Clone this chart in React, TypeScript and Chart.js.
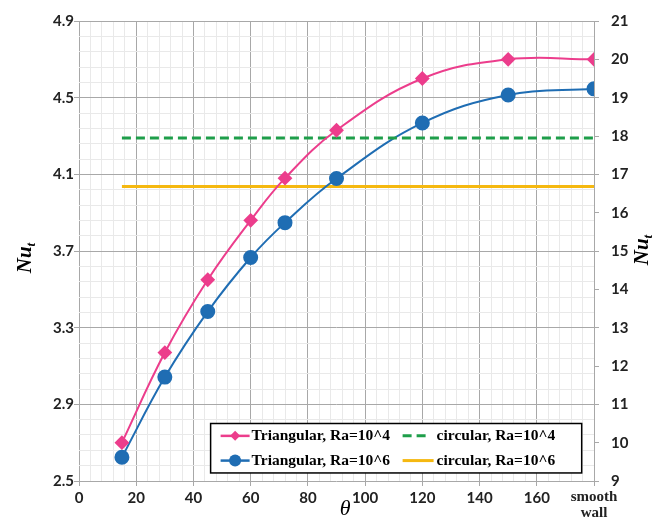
import React, { useEffect, useRef } from "react";
import { Chart, registerables } from "chart.js";

Chart.register(...registerables);

const thetaDeg = [15, 30, 45, 60, 72, 90, 120, 150, 180];
const triangularRa4 = [2.7, 3.17, 3.55, 3.86, 4.08, 4.33, 4.6, 4.7, 4.7];
const triangularRa6 = [9.62, 11.71, 13.42, 14.83, 15.74, 16.89, 18.34, 19.07, 19.23];
const circularRange = [15, 180];
const circularRa4 = 4.29;
const circularRa6 = 16.68;

const xMajorTicks = [0, 20, 40, 60, 80, 100, 120, 140, 160, 180];
const xLastLabel = ["smooth", "wall"];
const leftMajorTicks = [2.5, 2.9, 3.3, 3.7, 4.1, 4.5, 4.9];
const rightTicks = [9, 10, 11, 12, 13, 14, 15, 16, 17, 18, 19, 20, 21];

const legendLabels = [
  "Triangular, Ra=10^4",
  "circular, Ra=10^4",
  "Triangular, Ra=10^6",
  "circular, Ra=10^6",
];

const PINK = "#ec3d8c";
const BLUE = "#1f6db3";
const GREEN = "#1e9e4a";
const ORANGE = "#f5b810";

const MAJOR_GRID = "#a8a8a8";
const MINOR_GRID = "#e9e9e9";

const SERIF = "'Liberation Serif', 'DejaVu Serif', serif";
const tickFont = { family: "Lato, 'Open Sans', sans-serif", weight: "bold" as const, size: 15 };
const serifBold = { family: SERIF, weight: "bold" as const, size: 15, lineHeight: 1.05 };

function isMultiple(v: number, step: number, base = 0) {
  const r = (v - base) / step;
  return Math.abs(r - Math.round(r)) < 1e-6;
}

const titlesPlugin = {
  id: "customTitles",
  afterDraw(chart: any) {
    const ctx = chart.ctx;
    const drawNu = (x: number, y: number, rot: number) => {
      ctx.save();
      ctx.translate(x, y);
      ctx.rotate(rot);
      ctx.fillStyle = "#000";
      ctx.font = `italic bold 21px ${SERIF}`;
      const w1 = ctx.measureText("Nu").width;
      ctx.font = `italic bold 13px ${SERIF}`;
      const w2 = ctx.measureText("t").width;
      const total = w1 + w2;
      ctx.textBaseline = "middle";
      ctx.textAlign = "left";
      ctx.font = `italic bold 21px ${SERIF}`;
      ctx.fillText("Nu", -total / 2, 0);
      ctx.font = `italic bold 13px ${SERIF}`;
      ctx.fillText("t", -total / 2 + w1, 6);
      ctx.restore();
    };
    drawNu(26, 258, -Math.PI / 2);
    drawNu(643, 250, -Math.PI / 2);
    ctx.save();
    ctx.fillStyle = "#000";
    ctx.font = `italic 22px ${SERIF}`;
    ctx.textAlign = "center";
    ctx.textBaseline = "middle";
    ctx.fillText("θ", chart.scales.x.getPixelForValue(93), 509);
    ctx.restore();
  },
};

const legendPlugin = {
  id: "insideLegend",
  afterDraw(chart: any) {
    const ctx = chart.ctx;
    const x = chart.scales.x;
    const yl = chart.scales.yLeft;
    const left = x.getPixelForValue(46);
    const right = x.getPixelForValue(175.7);
    const top = yl.getPixelForValue(2.8);
    const bottom = yl.getPixelForValue(2.542);
    ctx.save();
    ctx.fillStyle = "#fff";
    ctx.fillRect(left, top, right - left, bottom - top);
    ctx.strokeStyle = "#000";
    ctx.lineWidth = 1.5;
    ctx.strokeRect(left, top, right - left, bottom - top);
    const ds = chart.data.datasets;
    const rowH = (bottom - top) / 2;
    [0, 1, 2, 3].forEach((di) => {
      const d = ds[di];
      const col = di % 2;
      const row = Math.floor(di / 2);
      const cy = top + rowH * (row + 0.5);
      const sx = col === 0 ? left + 10 : left + 192;
      const sw = col === 0 ? 29 : (d.borderDash ? 26 : 31);
      ctx.strokeStyle = d.borderColor;
      ctx.lineWidth = d.borderWidth + (col === 0 ? 0.5 : 0);
      ctx.setLineDash(d.borderDash || []);
      ctx.beginPath();
      ctx.moveTo(sx, cy);
      ctx.lineTo(sx + sw, cy);
      ctx.stroke();
      ctx.setLineDash([]);
      if (d.pointRadius > 0) {
        ctx.fillStyle = d.pointBackgroundColor;
        const r = d.pointStyle === "rectRot" ? 5 : 6;
        const cx = sx + sw / 2;
        ctx.beginPath();
        if (d.pointStyle === "rectRot") {
          ctx.moveTo(cx, cy - r);
          ctx.lineTo(cx + r, cy);
          ctx.lineTo(cx, cy + r);
          ctx.lineTo(cx - r, cy);
          ctx.closePath();
        } else {
          ctx.arc(cx, cy, r, 0, Math.PI * 2);
        }
        ctx.fill();
      }
      ctx.fillStyle = "#000";
      ctx.font = `bold 15.5px ${SERIF}`;
      ctx.textAlign = "left";
      ctx.textBaseline = "middle";
      const tx = col === 0 ? sx + sw + 2 : left + 226;
      ctx.fillText(legendLabels[di], tx, cy);
    });
    ctx.restore();
  },
};

export default function App() {
  const canvasRef = useRef<HTMLCanvasElement | null>(null);

  useEffect(() => {
    if (!canvasRef.current) return;
    const xTickValues: number[] = [];
    for (let v = 0; v <= 180 + 1e-9; v += 4) xTickValues.push(v);
    const leftTickValues: number[] = [];
    for (let i = 0; i <= 30; i++) leftTickValues.push(+(2.5 + i * 0.08).toFixed(2));

    const chart = new Chart(canvasRef.current, {
      type: "line",
      data: {
        datasets: [
          {
            label: legendLabels[0],
            data: thetaDeg.map((t, i) => ({ x: t, y: triangularRa4[i] })),
            yAxisID: "yLeft",
            borderColor: PINK,
            backgroundColor: PINK,
            pointBackgroundColor: PINK,
            pointBorderColor: PINK,
            pointStyle: "rectRot",
            pointRadius: 6,
            borderWidth: 2,
            tension: 0.4,
          } as any,
          {
            label: legendLabels[1],
            data: circularRange.map((t) => ({ x: t, y: circularRa4 })),
            yAxisID: "yLeft",
            borderColor: GREEN,
            backgroundColor: GREEN,
            borderDash: [9, 5],
            borderWidth: 3,
            pointRadius: 0,
            tension: 0,
          },
          {
            label: legendLabels[2],
            data: thetaDeg.map((t, i) => ({ x: t, y: triangularRa6[i] })),
            yAxisID: "yRight",
            borderColor: BLUE,
            backgroundColor: BLUE,
            pointBackgroundColor: BLUE,
            pointBorderColor: BLUE,
            pointStyle: "circle",
            pointRadius: 6.5,
            borderWidth: 2,
            tension: 0.4,
          } as any,
          {
            label: legendLabels[3],
            data: circularRange.map((t) => ({ x: t, y: circularRa6 })),
            yAxisID: "yRight",
            borderColor: ORANGE,
            backgroundColor: ORANGE,
            borderWidth: 3,
            pointRadius: 0,
            tension: 0,
          },
        ],
      },
      options: {
        animation: false,
        responsive: true,
        maintainAspectRatio: false,
        layout: { padding: { top: 20, left: 0, right: 0, bottom: 0 } },
        plugins: {
          legend: { display: false },
          tooltip: { enabled: false },
        },
        scales: {
          x: {
            type: "linear",
            min: 0,
            max: 180,
            afterBuildTicks: (scale: any) => {
              scale.ticks = xTickValues.map((v) => ({ value: v }));
            },
            afterFit: (scale: any) => {
              scale.height = 37;
            },
            ticks: {
              autoSkip: false,
              maxRotation: 0,
              padding: 3,
              color: "#222",
              font: (c: any) => (c.tick && c.tick.value === 180 ? serifBold : tickFont),
              callback: (v: any) => {
                const n = Number(v);
                if (n === 180) return xLastLabel;
                return xMajorTicks.includes(n) ? String(n) : "";
              },
            },
            grid: {
              color: (c: any) => (c.tick && isMultiple(c.tick.value, 20) ? MAJOR_GRID : MINOR_GRID),
              tickColor: (c: any) => (c.tick && isMultiple(c.tick.value, 20) ? MAJOR_GRID : "rgba(0,0,0,0)"),
              tickLength: 5,
              lineWidth: 1,
            },
            border: { display: false },
          },
          yLeft: {
            type: "linear",
            position: "left",
            min: 2.5,
            max: 4.9,
            afterBuildTicks: (scale: any) => {
              scale.ticks = leftTickValues.map((v) => ({ value: v }));
            },
            afterFit: (scale: any) => {
              scale.width = 79;
            },
            ticks: {
              autoSkip: false,
              padding: 0,
              color: "#222",
              font: tickFont,
              callback: (v: any) => {
                const n = Number(v);
                const m = leftMajorTicks.find((t) => Math.abs(t - n) < 1e-6);
                return m !== undefined ? m.toFixed(1) : "";
              },
            },
            grid: {
              color: (c: any) => (c.tick && isMultiple(c.tick.value, 0.4, 2.5) ? MAJOR_GRID : MINOR_GRID),
              tickColor: (c: any) => (c.tick && isMultiple(c.tick.value, 0.4, 2.5) ? MAJOR_GRID : "rgba(0,0,0,0)"),
              tickLength: 5,
              lineWidth: 1,
            },
            border: { display: false },
          },
          yRight: {
            type: "linear",
            position: "right",
            min: 9,
            max: 21,
            afterBuildTicks: (scale: any) => {
              scale.ticks = rightTicks.map((v) => ({ value: v }));
            },
            afterFit: (scale: any) => {
              scale.width = 70;
            },
            ticks: {
              autoSkip: false,
              padding: 12,
              color: "#222",
              font: tickFont,
              callback: (v: any) => String(v),
            },
            grid: {
              drawOnChartArea: false,
              color: MAJOR_GRID,
              tickLength: 5,
            },
            border: { display: true, color: MAJOR_GRID },
          },
        },
      } as any,
      plugins: [legendPlugin, titlesPlugin],
    });
    return () => chart.destroy();
  }, []);

  return (
    <div style={{ position: "fixed", left: 0, top: 0, width: 664, height: 518, background: "#fff" }}>
      <canvas ref={canvasRef} />
    </div>
  );
}
